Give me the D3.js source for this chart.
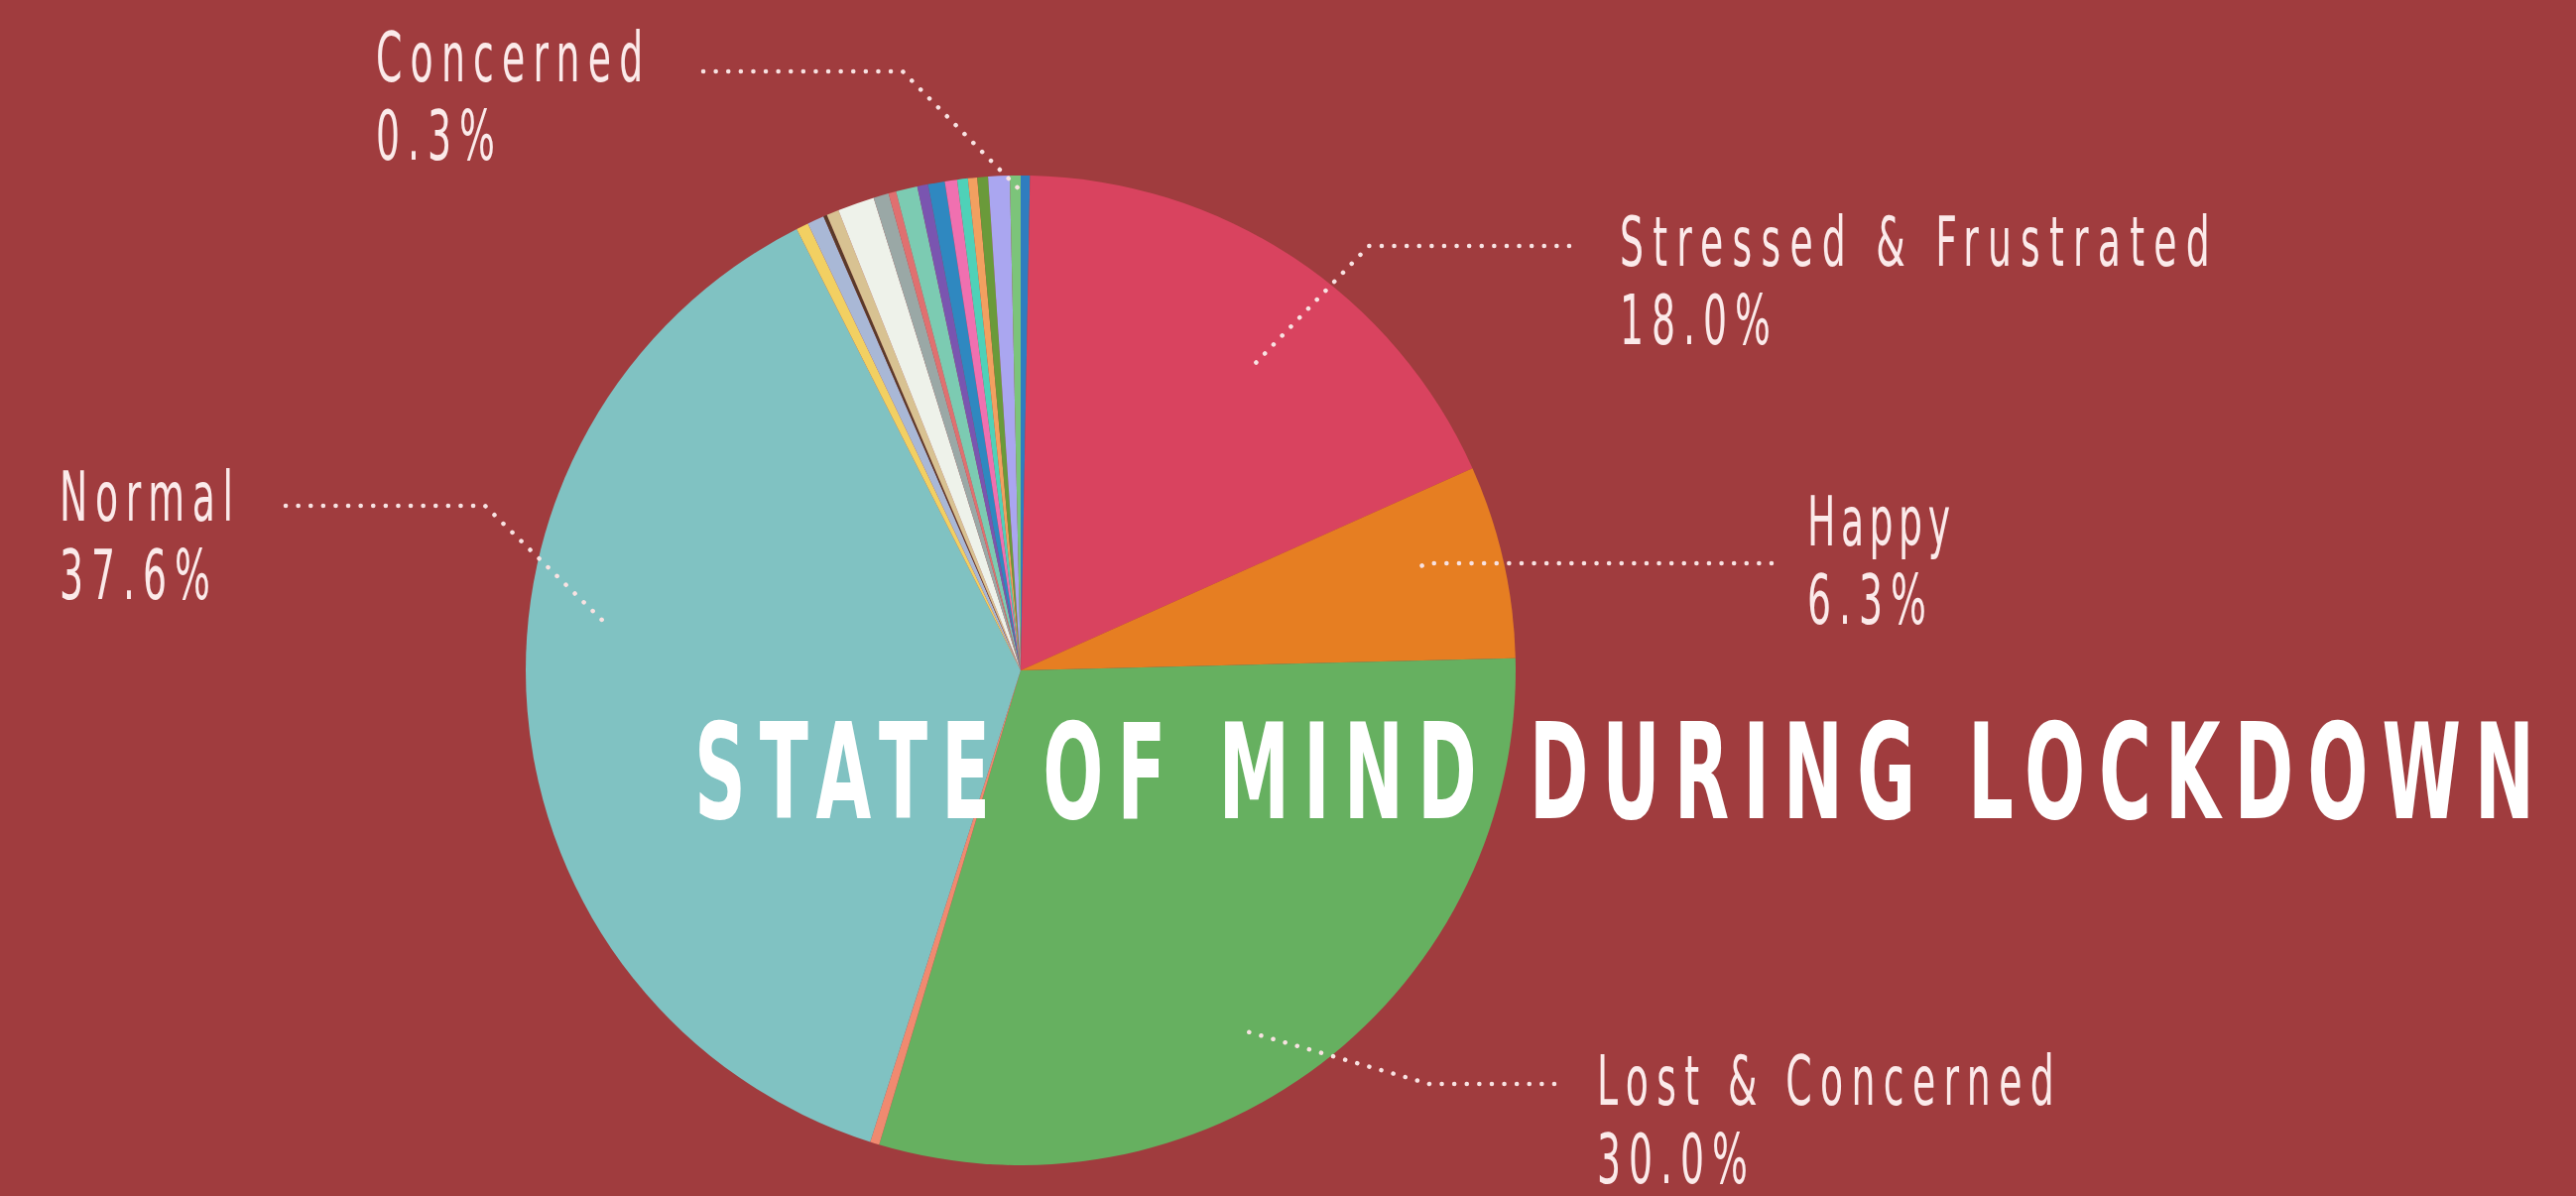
<!DOCTYPE html>
<html>
<head>
<meta charset="utf-8">
<script src="https://cdn.jsdelivr.net/npm/d3@7"></script>
<style>
  html, body { margin: 0; padding: 0; background: #a03c3e; overflow: hidden; }
  svg { display: block; }
</style>
</head>
<body>
<div id="chart"></div>
<script>
// slices, clockwise from 12 o'clock
const categories = [
  'Concerned', 'Stressed & Frustrated', 'Happy', 'Lost & Concerned', 'Other 1', 'Normal',
  'Other 2', 'Other 3', 'Other 4', 'Other 5', 'Other 6', 'Other 7', 'Other 8', 'Other 9',
  'Other 10', 'Other 11', 'Other 12', 'Other 13', 'Other 14', 'Other 15', 'Other 16', 'Other 17'
];
const values = [
  0.3, 18.0, 6.3, 30.0, 0.3, 37.6,
  0.4, 0.55, 0.12, 0.4, 1.2, 0.5, 0.25, 0.7,
  0.35, 0.55, 0.4, 0.35, 0.3, 0.35, 0.7, 0.35
];
const colors = [
  '#2f7dbf', '#d9435f', '#e67e22', '#66b060', '#f08a70', '#80c2c2',
  '#f2d062', '#a9b8d6', '#5a3a2a', '#d8c292', '#eef2ea', '#9aa8a6', '#e07070', '#7ccbb2',
  '#7a55b0', '#2f88c0', '#f070b0', '#4fd1b8', '#f2a060', '#6a9a3a', '#aaa6f0', '#7cc47a'
];

// labelled slices and their captions
const labelNames = ['Concerned', 'Stressed & Frustrated', 'Happy', 'Lost & Concerned', 'Normal'];
const labelPercents = ['0.3%', '18.0%', '6.3%', '30.0%', '37.6%'];
const title = 'STATE OF MIND DURING LOCKDOWN';

const width = 2597, height = 1206;
const cx = 1029, cy = 676, radius = 499;

const color = d3.scaleOrdinal().domain(categories).range(colors);

const svg = d3.select('#chart')
  .append('svg')
  .attr('width', width)
  .attr('height', height);

svg.append('rect')
  .attr('width', width)
  .attr('height', height)
  .attr('fill', '#a03c3e');

const pie = d3.pie().sort(null).value(d => d.value);
const arcs = pie(categories.map((c, i) => ({ name: c, value: values[i] })));

const arc = d3.arc().innerRadius(0).outerRadius(radius);

const g = svg.append('g').attr('transform', `translate(${cx},${cy})`);

g.selectAll('path')
  .data(arcs)
  .enter()
  .append('path')
  .attr('d', arc)
  .attr('fill', d => color(d.data.name));

// label layout: where the caption sits and where the dotted leader bends
const layout = {
  'Concerned':             { x: 379,  y: 82,   lineY: 72,   endX: 709,  elbowX: 910,  t: 0.5,  r: 0.96, cw: 30.8 },
  'Stressed & Frustrated': { x: 1633, y: 268,  lineY: 248,  endX: 1582, elbowX: 1380, t: 0.56, r: 0.78, cw: 28.7 },
  'Happy':                 { x: 1822, y: 550,  lineY: 568,  endX: 1786, elbowX: 1440, t: 0.42, r: 0.83, cw: 30.4 },
  'Lost & Concerned':      { x: 1610, y: 1114, lineY: 1093, endX: 1567, elbowX: 1441, t: 0.55, r: 0.86, cw: 29.3 },
  'Normal':                { x: 60,   y: 525,  lineY: 510,  endX: 288,  elbowX: 489,  t: 0.58, r: 0.84, cw: 30.5 }
};

const labelFont = "'DejaVu Sans Condensed', 'Liberation Sans Narrow', 'Roboto', sans-serif";

// tall, narrow lettering: draw at a smaller size and stretch vertically
function tallText(x, y, str, size, stretch, len) {
  return svg.append('text')
    .attr('transform', `translate(${x},${y}) scale(1,${stretch})`)
    .attr('font-family', labelFont)
    .attr('font-size', size)
    .attr('textLength', len)
    .attr('lengthAdjust', 'spacing')
    .text(str);
}

labelNames.forEach((name, i) => {
  const a = arcs.find(d => d.data.name === name);
  const L = layout[name];
  const ang = a.startAngle + (a.endAngle - a.startAngle) * L.t;
  const px = cx + Math.sin(ang) * radius * L.r;
  const py = cy - Math.cos(ang) * radius * L.r;

  svg.append('path')
    .attr('d', d3.line()([[L.endX, L.lineY], [L.elbowX, L.lineY], [px, py]]))
    .attr('fill', 'none')
    .attr('stroke', '#f8e2e2')
    .attr('stroke-width', 4.5)
    .attr('stroke-linecap', 'round')
    .attr('stroke-linejoin', 'round')
    .attr('stroke-dasharray', '0.1 12.5');

  const pct = labelPercents[i];
  tallText(L.x, L.y, name, 42, 1.66, name.length * L.cw - 8)
    .attr('fill', '#fbeaea');
  tallText(L.x, L.y + 79, pct, 42, 1.66, pct.length * 32 - 8)
    .attr('fill', '#fbeaea');
});

tallText(700, 825, title, 80, 1.68, 1855)
  .attr('font-weight', 'bold')
  .attr('fill', '#ffffff');
</script>
</body>
</html>
